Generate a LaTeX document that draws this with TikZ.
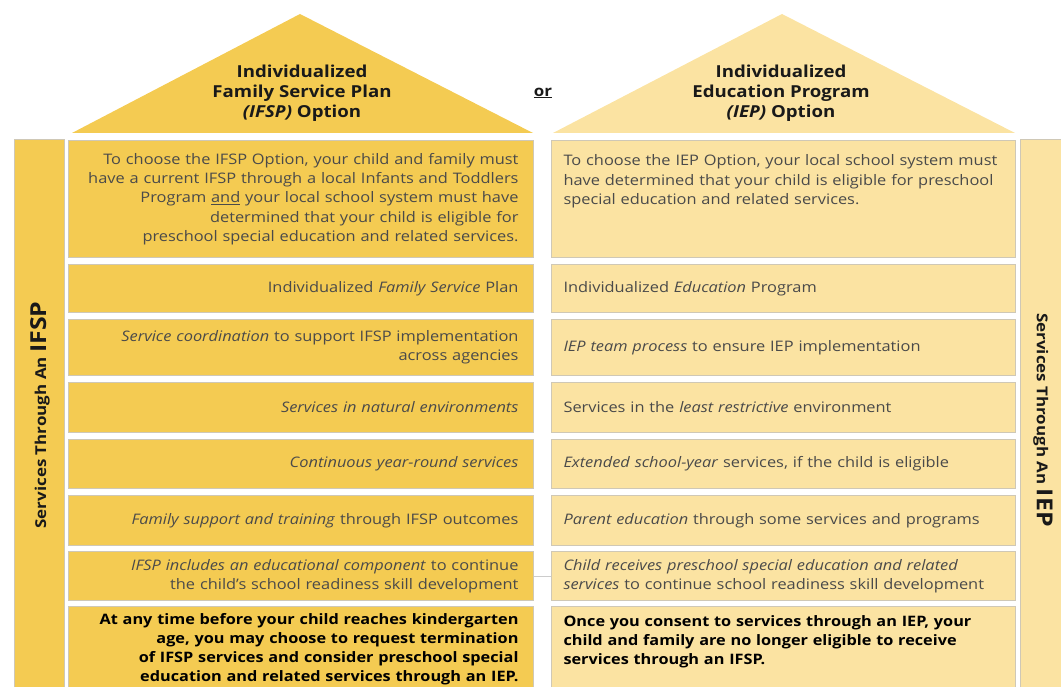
\documentclass[tikz,border=0pt]{standalone}
\usepackage{fontspec}
\setmainfont[FakeStretch=1.13]{Open Sans}
\definecolor{ifspgold}{HTML}{F4CB52}
\definecolor{iepgold}{HTML}{FBE3A2}
\definecolor{boxline}{HTML}{CFC8B6}
\definecolor{bodygray}{HTML}{4A4A4A}
\begin{document}
\begin{tikzpicture}[x=1pt,y=-1pt,
	every node/.style={inner sep=0pt},
	ifspbox/.style={draw=boxline,line width=1pt,fill=ifspgold,anchor=north west,text width=435pt,align=right,inner xsep=15pt,text=bodygray,font=\fontsize{14.5}{19.3}\selectfont},
	iepbox/.style={ifspbox,fill=iepgold,align=left,inner xsep=12pt,text width=440pt},
	bigbox/.style={text=black,font=\bfseries\fontsize{14.4}{19}\selectfont},
	title/.style={align=center,text=black!90,font=\bfseries\fontsize{16.5}{20}\selectfont},
	barlabel/.style={text=black!90,font=\bfseries\fontsize{15}{16}\selectfont}]

	\useasboundingbox (0,0) rectangle (1061,687);

	% roofs and side bars
	\fill[ifspgold] (72,133) -- (300,14) -- (533,133) -- cycle;
	\fill[iepgold] (553,133) -- (782,14) -- (1015,133) -- cycle;
	\filldraw[fill=ifspgold,draw=boxline] (14,139) rectangle (64,700);
	\filldraw[fill=iepgold,draw=boxline] (1020,139) rectangle (1075,700);

	\node[title] (ifsp) at (302,93) {Individualized\\Family Service Plan\\\textit{(IFSP)} Option};
	\node[title] (iep) at (781,93) {Individualized\\Education Program\\\textit{(IEP)} Option};
	\node[barlabel] (or) at (543,93) {\underline{or}};

	\node[barlabel,rotate=90] (ifsplabel) at (40,415) {Services Through An {\fontsize{22}{22}\selectfont IFSP}};
	\node[barlabel,rotate=-90] (ieplabel) at (1043,420) {Services Through An {\fontsize{22}{22}\selectfont IEP}};

	% IFSP column
	\node[ifspbox,minimum height=117pt] (l1) at (68,140) {To choose the IFSP Option, your child and family must\\have a current IFSP through a local Infants and Toddlers\\Program \underline{and} your local school system must have\\determined that your child is eligible for\\preschool special education and related services.};
	\node[ifspbox,minimum height=48pt] (l2) at (68,264) {Individualized \textit{Family Service} Plan};
	\node[ifspbox,minimum height=56pt] (l3) at (68,319) {\textit{Service coordination} to support IFSP implementation\\across agencies};
	\node[ifspbox,minimum height=50pt] (l4) at (68,382) {\textit{Services in natural environments}};
	\node[ifspbox,minimum height=49pt] (l5) at (68,439) {\textit{Continuous year-round services}};
	\node[ifspbox,minimum height=50pt] (l6) at (68,495) {\textit{Family support and training} through IFSP outcomes};
	\node[ifspbox,minimum height=49pt] (l7) at (68,551) {\textit{IFSP includes an educational component} to continue\\the child's school readiness skill development};
	\node[ifspbox,bigbox,minimum height=86pt] (l8) at (68,606) {At any time before your child reaches kindergarten\\age, you may choose to request termination\\of IFSP services and consider preschool special\\education and related services through an IEP.};

	% IEP column
	\node[iepbox,minimum height=117pt] (r1) at (551,140) {To choose the IEP Option, your local school system must\\have determined that your child is eligible for preschool\\special education and related services.\\\mbox{}\\\mbox{}};
	\node[iepbox,minimum height=48pt] (r2) at (551,264) {Individualized \textit{Education} Program};
	\node[iepbox,minimum height=56pt] (r3) at (551,319) {\textit{IEP team process} to ensure IEP implementation};
	\node[iepbox,minimum height=50pt] (r4) at (551,382) {Services in the \textit{least restrictive} environment};
	\node[iepbox,minimum height=49pt] (r5) at (551,439) {\textit{Extended school-year} services, if the child is eligible};
	\node[iepbox,minimum height=50pt] (r6) at (551,495) {\textit{Parent education} through some services and programs};
	\node[iepbox,minimum height=49pt] (r7) at (551,551) {\textit{Child receives preschool special education and related}\\\textit{services} to continue school readiness skill development};
	\node[iepbox,bigbox,minimum height=86pt] (r8) at (551,606) {Once you consent to services through an IEP, your\\child and family are no longer eligible to receive\\services through an IFSP.\\\mbox{}};

	\draw[black!20] (l7.east) -- (r7.west);

\end{tikzpicture}
\end{document}
